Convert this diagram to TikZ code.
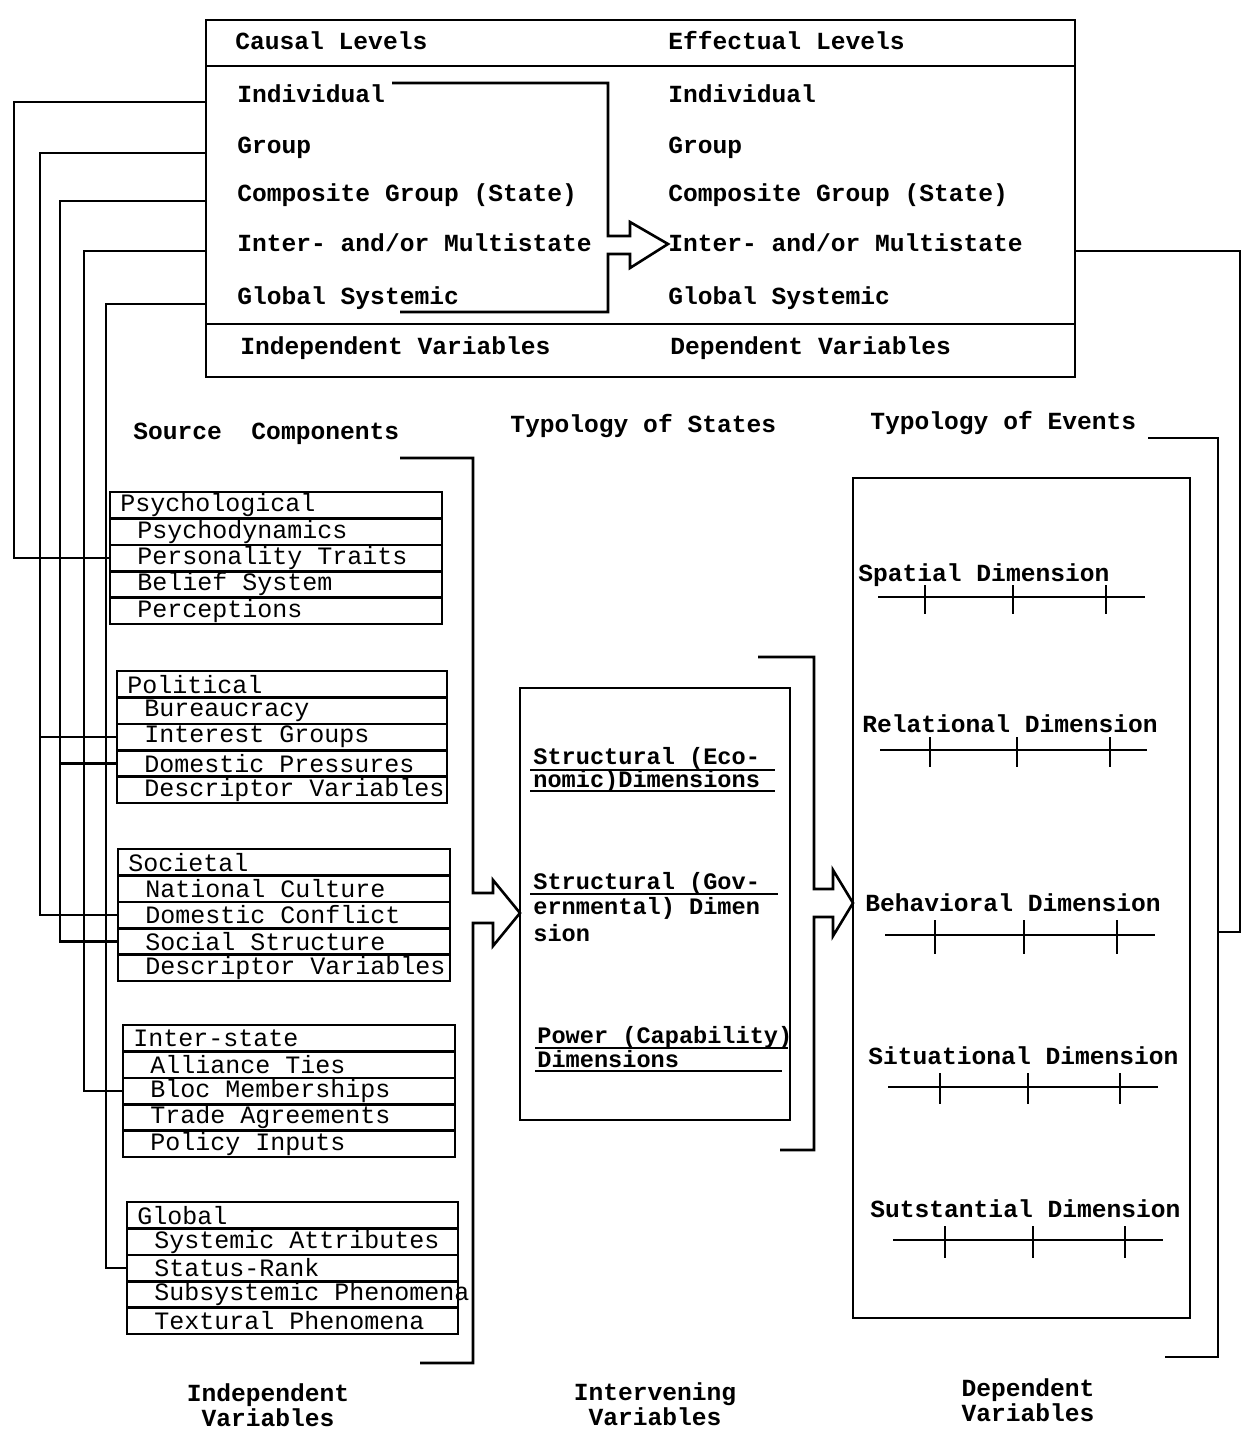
\documentclass[tikz,border=0pt]{standalone}
\usepackage{fontspec}
\newfontfamily\twf{Liberation Mono}
\usetikzlibrary{calc}
\tikzset{
  ln/.style={line width=1.3pt, line join=miter},
  tx/.style={font={\twf\bfseries\fontsize{12.3pt}{12.5pt}\selectfont}, inner sep=0pt},
  mtx/.style={font={\twf\bfseries\fontsize{11.8pt}{12.5pt}\selectfont}, inner sep=0pt, anchor=base west},
  rowtx/.style={font={\twf\fontsize{12.5pt}{12.5pt}\selectfont}, inner sep=0pt, anchor=west},
  srow/.style={draw, line width=1.3pt, rectangle, inner sep=0pt, outer sep=0pt, minimum height=13.2pt, anchor=north west},
  bigbox/.style={draw, line width=1.3pt, rectangle, inner sep=0pt, outer sep=0pt, anchor=north west},
}
\newcommand\srcbox[9]{%
  \node[srow, minimum width=#4*0.5pt] (#10) at (#2,#3) {};
  \node[srow, minimum width=#4*0.5pt] (#11) at (#10.south west) {};
  \node[srow, minimum width=#4*0.5pt] (#12) at (#11.south west) {};
  \node[srow, minimum width=#4*0.5pt] (#13) at (#12.south west) {};
  \node[srow, minimum width=#4*0.5pt] (#14) at (#13.south west) {};
  \node[rowtx] (#10t) at ([xshift=5pt]#10.west) {#5};
  \node[rowtx] (#11t) at ([xshift=13.5pt]#11.west) {#6};
  \node[rowtx] (#12t) at ([xshift=13.5pt]#12.west) {#7};
  \node[rowtx] (#13t) at ([xshift=13.5pt]#13.west) {#8};
  \node[rowtx] (#14t) at ([xshift=13.5pt]#14.west) {#9};
}
\begin{document}
\begin{tikzpicture}[x=0.5pt, y=-0.5pt]
\useasboundingbox (0,0) rectangle (1246,1430);

% ---------- top box ----------
\node[bigbox, minimum width=869*0.5pt, minimum height=357*0.5pt] (topbox) at (206,20) {};
\draw[ln] (topbox.west |- 0,66) -- (topbox.east |- 0,66);
\draw[ln] (topbox.west |- 0,324) -- (topbox.east |- 0,324);

\node[tx, anchor=base west] (cl0) at (235,49) {Causal Levels};
\node[tx, anchor=base west] (cl1) at (237,102) {Individual};
\node[tx, anchor=base west] (cl2) at (237,153) {Group};
\node[tx, anchor=base west] (cl3) at (237,201) {Composite Group (State)};
\node[tx, anchor=base west] (cl4) at (237,251) {Inter- and/or Multistate};
\node[tx, anchor=base west] (cl5) at (237,304) {Global Systemic};
\node[tx, anchor=base west] (clF) at (240,354) {Independent Variables};

\node[tx, anchor=base west] (el0) at (668,49) {Effectual Levels};
\node[tx, anchor=base west] (el1) at (668,102) {Individual};
\node[tx, anchor=base west] (el2) at (668,153) {Group};
\node[tx, anchor=base west] (el3) at (668,201) {Composite Group (State)};
\node[tx, anchor=base west] (el4) at (668,251) {Inter- and/or Multistate};
\node[tx, anchor=base west] (el5) at (668,304) {Global Systemic};
\node[tx, anchor=base west] (elF) at (670,354) {Dependent Variables};

% bracket + block arrow from causal to effectual
\coordinate (tbA) at (392,83);
\coordinate (tbB) at (400,312);
\draw[ln] (tbA) -- (608,83) -- (608,236) -- (630,236) -- (630,222)
  -- ([yshift=3.5pt]el4.base west) -- (630,268) -- (630,254) -- (608,254) -- (608,312) -- (tbB);

% ---------- headings ----------
\node[tx, anchor=base west] (hsc) at (133,439) {Source~~Components};
\node[tx, anchor=base west] (hts) at (510,432) {Typology of States};
\node[tx, anchor=base west] (hte) at (870,429) {Typology of Events};

% ---------- source components ----------
\srcbox{psy}{110}{492}{332}{Psychological}{Psychodynamics}{Personality Traits}{Belief System}{Perceptions}
\srcbox{pol}{117}{671}{330}{Political}{Bureaucracy}{Interest Groups}{Domestic Pressures}{Descriptor Variables}
\srcbox{soc}{118}{849}{332}{Societal}{National Culture}{Domestic Conflict}{Social Structure}{Descriptor Variables}
\srcbox{int}{123}{1025}{332}{Inter-state}{Alliance Ties}{Bloc Memberships}{Trade Agreements}{Policy Inputs}
\srcbox{glo}{127}{1202}{331}{Global}{Systemic Attributes}{Status-Rank}{Subsystemic Phenomena}{Textural Phenomena}

% ---------- left connectors ----------
\coordinate (xa) at (14,0);
\coordinate (xb) at (40,0);
\coordinate (xc) at (60,0);
\coordinate (xd) at (84,0);
\coordinate (xe) at (106,0);
\draw[ln] (topbox.west |- cl1.base) -| (xa |- psy2.west) -- (psy2.west);
\draw[ln] (topbox.west |- cl2.base) -| (xb |- soc2.west) -- (soc2.west);
\draw[ln] (xb |- pol2.west) -- (pol2.west);
\draw[ln] (topbox.west |- cl3.base) -| (xc |- soc3.west) -- (soc3.west);
\draw[ln] (xc |- pol3.west) -- (pol3.west);
\draw[ln] (topbox.west |- cl4.base) -| (xd |- int2.west) -- (int2.west);
\draw[ln] (topbox.west |- cl5.base) -| (xe |- glo2.west) -- (glo2.west);

% ---------- middle box ----------
\node[bigbox, minimum width=270*0.5pt, minimum height=432*0.5pt] (midbox) at (520,688) {};
\node[mtx] (se1) at (533,764) {Structural (Eco-};
\node[mtx] (se2) at (533,787) {nomic)Dimensions};
\node[mtx] (sg1) at (533,889) {Structural (Gov-};
\node[mtx] (sg2) at (533,914) {ernmental) Dimen};
\node[mtx] (sg3) at (533,941) {sion};
\node[mtx] (pc1) at (537,1043) {Power (Capability)};
\node[mtx] (pc2) at (537,1067) {Dimensions};
\draw[line width=1pt] ([xshift=-1.5pt,yshift=-3pt]se1.base west) -- ++(245,0);
\draw[line width=1pt] ([xshift=-1.5pt,yshift=-2pt]se2.base west) -- ++(245,0);
\draw[line width=1pt] ([xshift=-1.5pt,yshift=-2.5pt]sg1.base west) -- ++(248,0);
\draw[line width=1pt] ([xshift=-1pt,yshift=-2.5pt]pc1.base west) -- ++(253,0);
\draw[line width=1pt] ([xshift=-1pt,yshift=-2pt]pc2.base west) -- ++(247,0);

% source bracket + arrow to middle box
\coordinate (sbA) at (400,458);
\coordinate (sbB) at (420,1363);
\coordinate (tipLy) at (0,913);
\draw[ln] (sbA) -- (473,458) -- (473,893) -- (493,893) -- (493,880)
  -- (midbox.west |- tipLy) -- (493,946) -- (493,923) -- (473,923) -- (473,1363) -- (sbB);

% ---------- events box ----------
\node[bigbox, minimum width=337*0.5pt, minimum height=840*0.5pt] (evbox) at (853,478) {};

% middle bracket + arrow to events box
\coordinate (mbA) at (758,657);
\coordinate (mbB) at (780,1150);
\coordinate (tipRy) at (0,903);
\draw[ln] (mbA) -- (814,657) -- (814,889) -- (833,889) -- (833,870)
  -- (evbox.west |- tipRy) -- (833,936) -- (833,917) -- (814,917) -- (814,1150) -- (mbB);

\node[tx, anchor=base west] (d1) at (858,581) {Spatial Dimension};
\node[tx, anchor=base west] (d2) at (862,732) {Relational Dimension};
\node[tx, anchor=base west] (d3) at (865,911) {Behavioral Dimension};
\node[tx, anchor=base west] (d4) at (868,1064) {Situational Dimension};
\node[tx, anchor=base west] (d5) at (870,1217) {Sutstantial Dimension};

\draw[ln] (878,597) -- (1145,597);
\foreach \t in {925,1013,1106} \draw[ln] (\t,585) -- (\t,614);
\draw[ln] (880,750) -- (1147,750);
\foreach \t in {930,1017,1110} \draw[ln] (\t,737) -- (\t,767);
\draw[ln] (885,935) -- (1155,935);
\foreach \t in {935,1024,1117} \draw[ln] (\t,920) -- (\t,954);
\draw[ln] (888,1087) -- (1158,1087);
\foreach \t in {940,1028,1120} \draw[ln] (\t,1073) -- (\t,1104);
\draw[ln] (893,1240) -- (1163,1240);
\foreach \t in {945,1033,1125} \draw[ln] (\t,1226) -- (\t,1258);

% events bracket and feedback line
\coordinate (ebA) at (1148,438);
\coordinate (ebB) at (1165,1357);
\coordinate (ebM) at (1218,932);
\coordinate (fbx) at (1240,0);
\draw[ln] (ebA) -- (1218,438) -- (1218,1357) -- (ebB);
\draw[ln] (ebM) -| (fbx |- el4.base) -- (topbox.east |- el4.base);

% ---------- bottom labels ----------
\node[tx, align=center] (bl1) at (268,1405) {Independent\\Variables};
\node[tx, align=center] (bl2) at (655,1404) {Intervening\\Variables};
\node[tx, align=center] (bl3) at (1028,1400) {Dependent\\Variables};
\end{tikzpicture}
\end{document}
